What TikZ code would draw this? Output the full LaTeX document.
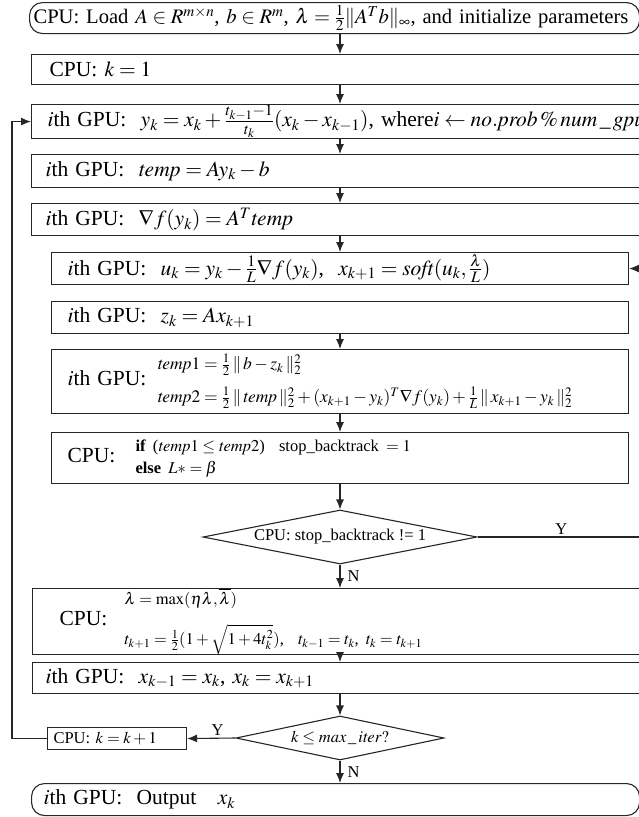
\documentclass[tikz,border=0pt]{standalone}
\usepackage{mathptmx}
\usepackage{fontspec}
\setmainfont{Liberation Serif}
\usetikzlibrary{arrows.meta, shapes.geometric, calc}

\newcommand\smallfs{\fontsize{16.5}{20}\selectfont}
\newcommand\midfs{\fontsize{17.5}{21}\selectfont}

\begin{document}
\begin{tikzpicture}[x=1pt,y=-1pt,
  every node/.style={font=\fontsize{21.5}{26}\selectfont},
  linea/.style={line width=1.1pt, draw=black!85},
  flecha/.style={linea, -{Latex[length=10pt,width=8pt]}},
  caja/.style={linea, rectangle, anchor=north west, align=left, inner ysep=0pt, text width=#1},
  redonda/.style={caja=#1, rounded corners=13pt},
  decision/.style={linea, diamond, inner sep=0pt, font=\smallfs},
  etiq/.style={font=\smallfs, inner sep=2pt}]
\useasboundingbox (0,0) rectangle (639,817);
\clip (0,0) rectangle (639,817);

% cajas del flujo
\node[redonda=602pt, inner xsep=4pt, minimum height=31pt, font=\fontsize{20.6}{24}\selectfont] (ini) at (29,2)
  {\mbox{CPU: Load $A\in R^{m\times n}$, $b\in R^m$, $\lambda=\frac{1}{2}\|A^Tb\|_\infty$, and initialize parameters}};
\node[caja=633pt, inner xsep=18pt, minimum height=30pt] (kuno) at (31,54) {CPU: $k=1$};
\node[caja=637pt, inner xsep=16pt, minimum height=34pt] (yk) at (31,104)
  {\mbox{$i$th GPU:\ \ $y_k=x_k+\frac{t_{k-1}-1}{t_k}(x_k-x_{k-1})$, where$i\leftarrow \mathit{no.prob}\,\%\,\mathit{num}\,\_\,\mathit{gpu}$}};
\node[caja=641pt, inner xsep=14pt, minimum height=33pt] (tmp) at (31,154) {$i$th GPU:\ \ $\mathit{temp}=Ay_k-b$};
\node[caja=641pt, inner xsep=14pt, minimum height=32pt] (grad) at (31,203) {$i$th GPU:\ \ $\nabla f(y_k)=A^T \mathit{temp}$};
\node[caja=545pt, inner xsep=16pt, minimum height=32pt] (uk) at (51,252)
  {$i$th GPU:\ \ $u_k=y_k-\frac{1}{L}\nabla f(y_k)$,\ \ $x_{k+1}=\mathit{soft}(u_k,\frac{\lambda}{L})$};
\node[caja=545pt, inner xsep=16pt, minimum height=32pt] (zk) at (51,301) {$i$th GPU:\ \ $z_k=Ax_{k+1}$};
\node[caja=545pt, inner xsep=16pt, minimum height=64pt] (temps) at (51,349)
  {\makebox[90pt][l]{$i$th GPU:}{\midfs\begin{tabular}[c]{@{}l@{}}
   $\mathit{temp}1=\frac{1}{2}\,\|\,b-z_k\,\|_2^2$\\[11pt]
   $\mathit{temp}2=\frac{1}{2}\,\|\,\mathit{temp}\,\|_2^2+(x_{k+1}-y_k)^T\nabla f(y_k)+\frac{1}{L}\,\|\,x_{k+1}-y_k\,\|_2^2$
  \end{tabular}}};
\node[caja=545pt, inner xsep=16pt, minimum height=51pt] (cond) at (51,432)
  {\makebox[68pt][l]{CPU:}{\smallfs\begin{tabular}[c]{@{}l@{}}
   \textbf{if} ($\mathit{temp}1\le \mathit{temp}2$)\ \ stop\_backtrack $=1$\\[2pt]
   \textbf{else} $L*=\beta$
  \end{tabular}}};
\node[decision, aspect=5.07, minimum width=274pt, minimum height=54pt] (stop) at (340,537) {CPU: stop\_backtrack != 1};
\node[caja=614pt, inner xsep=27pt, minimum height=55pt] (lam) at (32,588)
  {\makebox[65pt][l]{CPU:}{\smallfs\begin{tabular}[c]{@{}l@{}}
   $\lambda=\max(\eta\lambda,\overline{\lambda})$\\[14pt]
   $t_{k+1}=\frac{1}{2}(1+\sqrt{1+4t_k^2})$,\ \ $t_{k-1}=t_k$, $t_k=t_{k+1}$
  \end{tabular}}};
\node[caja=642pt, inner xsep=13pt, minimum height=31pt] (xk) at (32,662) {$i$th GPU:\ \ $x_{k-1}=x_k$, $x_k=x_{k+1}$};
\node[decision, aspect=4.7, minimum width=208pt, minimum height=44pt] (iter) at (340,738) {$k\le \mathit{max}\,\_\,\mathit{iter}?$};
\node[caja=127pt, inner xsep=6pt, minimum height=22pt, font=\smallfs] (kmas) at (47,727) {CPU: $k=k+1$};
\node[redonda=584pt, inner xsep=12pt, minimum height=32pt] (fin) at (31,783) {$i$th GPU:\ \ Output\ \ \ $x_k$};

\coordinate (izq) at (12,0);   % retorno por la izquierda
\coordinate (der) at (652,0);  % retorno por la derecha (fuera del corte)

% flechas
\draw[flecha] (ini.south -| stop) -- (kuno.north -| stop);
\draw[flecha] (kuno.south -| stop) -- (yk.north -| stop);
\draw[flecha] (yk.south -| stop) -- (tmp.north -| stop);
\draw[flecha] (tmp.south -| stop) -- (grad.north -| stop);
\draw[flecha] (grad.south -| stop) -- (uk.north -| stop);
\draw[flecha] (zk.south -| stop) -- (temps.north -| stop);
\draw[flecha] (temps.south -| stop) -- (cond.north -| stop);
\draw[flecha] (cond.south -| stop) -- (stop.north);
\draw[flecha] (stop.south) -- node[etiq, right, xshift=5pt] {N} (lam.north -| stop);
\draw[flecha] (stop.east) -- node[etiq, above, pos=0.48] {Y} (stop.east -| der) |- (uk.east);
\draw[flecha] (lam.south -| stop) -- (xk.north -| stop);
\draw[flecha] (xk.south -| stop) -- (iter.north);
\draw[flecha] (iter.south) -- node[etiq, right, xshift=5pt] {N} (fin.north -| iter);
\draw[flecha] (iter.west) -- node[etiq, above, pos=0.37] {Y} (kmas.east);
\draw[flecha] (kmas.west) -- (kmas.west -| izq) |- (yk.west);
\end{tikzpicture}
\end{document}
